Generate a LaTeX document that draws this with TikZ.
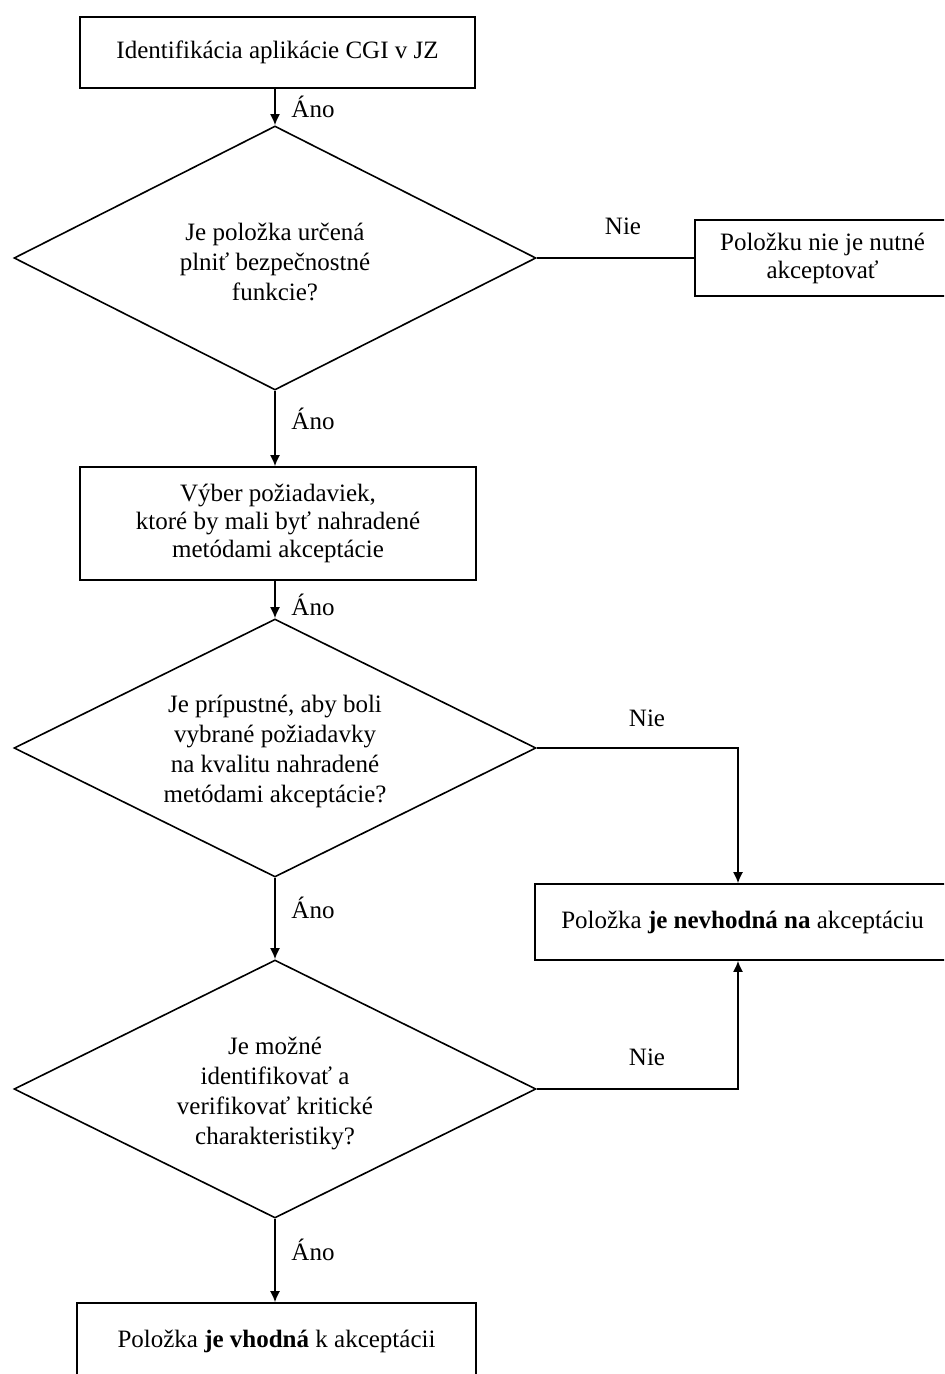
\documentclass[tikz,border=0pt]{standalone}
\usepackage{fontspec}
\setmainfont{Liberation Serif}
\usetikzlibrary{shapes.geometric,arrows.meta}
\begin{document}
\begin{tikzpicture}[x=0.5pt,y=-0.5pt,
  every node/.style={font=\fontsize{12.5pt}{14pt}\selectfont},
  box/.style={draw,line width=0.8pt,rectangle,inner sep=0pt,align=center},
  dia/.style={draw,line width=0.8pt,diamond,inner sep=0pt,minimum width=261pt,minimum height=129pt},
  dtext/.style={align=center,font=\fontsize{12.5pt}{15pt}\selectfont},
  lbl/.style={inner sep=0pt},
  conn/.style={line width=0.8pt},
  arr/.style={line width=0.8pt,-{Latex[length=5.5pt,width=5pt]}}]
\useasboundingbox (0,0) rectangle (944,1374);
\begin{scope}
\clip (0,0) rectangle (944,1374);
\node[box,minimum width=197.5pt,minimum height=35.5pt] (b1) at (277.5,52.5) {Identifikácia aplikácie CGI v JZ};
\node[dia,minimum height=132pt] (d1) at (275,258) {};
\node[dtext] (t1) at (275,262) {Je položka určená\\plniť bezpečnostné\\funkcie?};
\node[box,minimum width=127.5pt,minimum height=38pt] (b2) at (822.5,258) {Položku nie je nutné\\akceptovať};
\node[box,minimum width=198pt,minimum height=56.5pt] (b3) at (278,523.5) {Výber požiadaviek,\\ktoré by mali byť nahradené\\metódami akceptácie};
\node[dia] (d2) at (275,748) {};
\node[dtext] (t2) at (275,751) {Je prípustné, aby boli\\vybrané požiadavky\\na kvalitu nahradené\\metódami akceptácie?};
\node[box,minimum width=207.5pt,minimum height=38pt] (b4) at (742.5,922) {Položka \textbf{je nevhodná na} akceptáciu};
\node[dia] (d3) at (275,1089) {};
\node[dtext] (t3) at (275,1093) {Je možné\\identifikovať a\\verifikovať kritické\\charakteristiky?};
\node[box,minimum width=199.5pt,minimum height=38pt] (b5) at (276.5,1341) {Položka \textbf{je vhodná} k akceptácii};
\end{scope}
\coordinate (c1) at (b1.south -| d1.north);
\draw[arr] (c1) -- (d1.north);
\draw[conn] (d1.east) -- (b2.west);
\coordinate (b3n) at (b3.north -| d1.south);
\coordinate (b3s) at (b3.south -| d1.south);
\draw[arr] (d1.south) -- (b3n);
\draw[arr] (b3s) -- (d2.north);
\coordinate (k2) at (738,748);
\coordinate (b4n) at (b4.north -| k2);
\coordinate (b4s) at (b4.south -| k2);
\draw[arr] (d2.east) -- (k2) -- (b4n);
\draw[arr] (d3.east) -| (b4s);
\draw[arr] (d2.south) -- (d3.north);
\coordinate (b5n) at (b5.north -| d3.south);
\draw[arr] (d3.south) -- (b5n);
\node[lbl] (a1) at (313,107) {Áno};
\node[lbl] (a2) at (313,419) {Áno};
\node[lbl] (a3) at (313,605) {Áno};
\node[lbl] (a4) at (313,908) {Áno};
\node[lbl] (a5) at (313,1250) {Áno};
\node[lbl] (n1) at (623,226) {Nie};
\node[lbl] (n2) at (647,718) {Nie};
\node[lbl] (n3) at (647,1057) {Nie};
\end{tikzpicture}
\end{document}
